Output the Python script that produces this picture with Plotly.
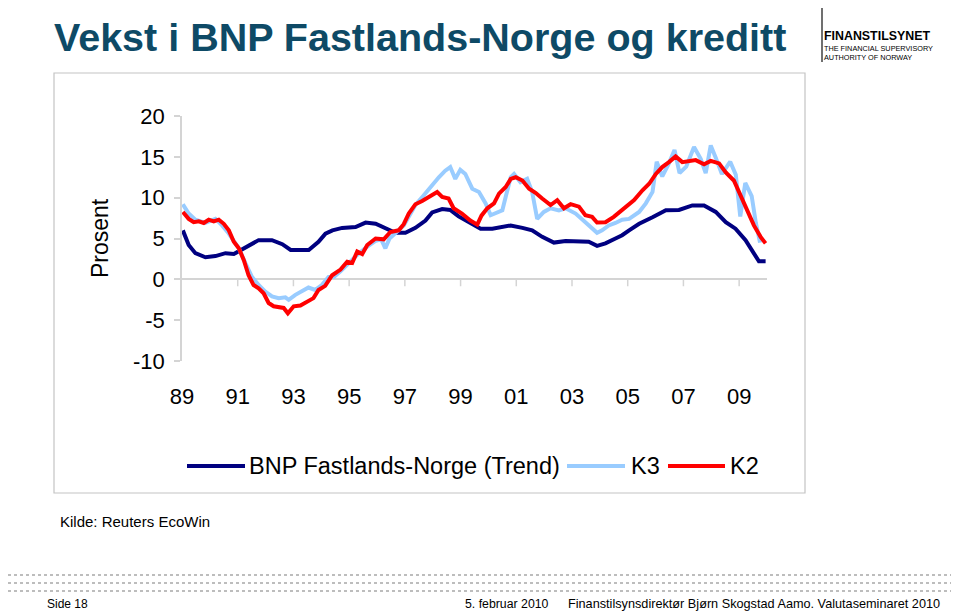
import plotly.graph_objects as go

# ---------------- data ----------------
bnp_t = [1989.03,1989.24,1989.48,1989.84,1990.2,1990.56,1990.86,1991.15,1991.46,1991.75,1992.23,1992.6,1992.9,1993.55,1993.9,
         1994.15,1994.4,1994.75,1995.23,1995.59,1995.95,1996.3,1996.66,1997.02,1997.38,1997.74,1997.98,1998.34,1998.63,1998.93,
         1999.41,1999.72,2000.14,2000.5,2000.8,2001.22,2001.57,2001.93,2002.35,2002.77,2003.25,2003.6,2003.9,2004.2,2004.56,
         2004.8,2005.05,2005.41,2005.89,2006.37,2006.84,2007.32,2007.74,2008.16,2008.52,2008.87,2009.23,2009.53,2009.71,2009.95]
bnp_v = [6.0,4.2,3.2,2.7,2.85,3.2,3.1,3.66,4.2,4.8,4.8,4.3,3.6,3.6,4.6,
         5.6,6.0,6.3,6.4,6.95,6.8,6.2,5.7,5.7,6.3,7.2,8.2,8.6,8.5,7.7,
         6.8,6.2,6.2,6.4,6.6,6.3,6.0,5.2,4.5,4.7,4.7,4.6,4.1,4.4,5.0,
         5.4,6.0,6.8,7.6,8.45,8.5,9.05,9.05,8.25,7.0,6.2,4.8,3.2,2.2,2.2]

k3_t = [1989.03,1989.24,1989.48,1989.84,1990.2,1990.44,1990.68,1990.86,1991.04,1991.28,1991.51,1991.75,1991.99,1992.23,
        1992.47,1992.71,1992.83,1993.07,1993.3,1993.54,1993.78,1994.02,1994.26,1994.45,1994.69,1994.93,1995.29,1995.65,
        1995.95,1996.15,1996.3,1996.45,1996.78,1996.96,1997.14,1997.38,1997.68,1997.92,1998.22,1998.45,1998.63,1998.81,
        1998.99,1999.17,1999.42,1999.66,1999.90,2000.08,2000.32,2000.50,2000.62,2000.80,2000.92,2001.15,2001.39,2001.57,
        2001.75,2001.99,2002.23,2002.53,2002.77,2003.13,2003.48,2003.72,2003.90,2004.08,2004.32,2004.56,2004.80,2005.05,
        2005.41,2005.65,2005.89,2006.04,2006.24,2006.48,2006.68,2006.86,2007.1,2007.38,2007.62,2007.8,2007.98,2008.16,
        2008.38,2008.68,2008.88,2009.04,2009.22,2009.45,2009.6,2009.75]
k3_v = [9.2,8.05,7.3,6.9,7.4,6.6,5.6,4.8,3.8,1.95,0.3,-0.7,-1.5,-2.1,
        -2.3,-2.2,-2.5,-1.9,-1.5,-1.0,-1.3,-0.7,0.3,0.3,1.0,1.8,3.0,4.0,
        4.7,4.9,3.8,5.0,6.0,6.6,7.65,9.1,10.3,11.3,12.5,13.3,13.75,12.3,
        13.4,12.9,11.1,10.7,9.3,7.85,8.25,8.45,10.1,12.5,12.9,11.9,12.3,10.7,
        7.4,8.25,8.7,8.45,8.7,8.05,7.0,6.2,5.7,6.0,6.6,6.9,7.3,7.4,
        8.25,9.3,10.7,14.4,12.6,14.2,15.85,13.0,13.8,16.2,14.75,13.0,16.4,14.9,
        12.9,14.4,12.8,7.7,11.8,10.2,6.9,4.5]

k2_t = [1989.03,1989.24,1989.42,1989.60,1989.78,1989.96,1990.14,1990.32,1990.50,1990.68,1990.86,1991.04,1991.22,1991.39,
        1991.57,1991.75,1991.93,1992.11,1992.29,1992.47,1992.65,1992.80,1993.01,1993.25,1993.48,1993.72,1993.90,1994.14,
        1994.39,1994.69,1994.93,1995.11,1995.29,1995.47,1995.65,1995.95,1996.24,1996.48,1996.78,1996.96,1997.14,1997.38,
        1997.62,1997.92,1998.16,1998.34,1998.57,1998.75,1999.05,1999.35,1999.6,1999.75,1999.96,2000.20,2000.38,2000.62,
        2000.80,2000.98,2001.22,2001.46,2001.69,2001.93,2002.23,2002.47,2002.71,2002.95,2003.25,2003.48,2003.72,2003.90,
        2004.20,2004.50,2004.80,2004.93,2005.23,2005.53,2005.77,2006.01,2006.24,2006.48,2006.72,2006.96,2007.20,2007.44,
        2007.74,2007.98,2008.28,2008.52,2008.81,2009.05,2009.29,2009.53,2009.77,2009.95]
k2_v = [8.25,7.4,7.0,7.1,6.9,7.3,7.1,7.3,6.8,6.0,4.6,3.8,2.35,0.5,
        -0.7,-1.1,-1.7,-2.9,-3.3,-3.4,-3.5,-4.15,-3.3,-3.2,-2.7,-2.3,-1.3,-0.8,
        0.5,1.2,2.15,2.0,3.4,3.1,4.2,5.0,4.9,5.8,6.0,6.75,8.05,9.2,
        9.6,10.2,10.7,10.1,9.9,8.7,8.05,7.2,6.7,7.8,8.7,9.3,10.5,11.3,
        12.3,12.5,12.1,11.1,10.6,9.9,9.1,9.7,8.7,9.2,8.9,7.85,7.65,6.95,
        7.0,7.65,8.45,8.95,9.7,10.9,11.7,12.9,13.75,14.35,15.05,14.35,14.5,14.6,
        14.1,14.5,14.2,13.1,12.1,10.3,8.45,6.6,5.2,4.4]

tick_years = [1989, 1991, 1993, 1995, 1997, 1999, 2001, 2003, 2005, 2007, 2009]
tick_text = ["89", "91", "93", "95", "97", "99", "01", "03", "05", "07", "09"]
y_ticks = [-10, -5, 0, 5, 10, 15, 20]
y_tick_text = ["-10", "-5", "0", "5", "10", "15", "20"]

series_names = ["BNP Fastlands-Norge (Trend)", "K3", "K2"]
series_colors = ["#000080", "#99CCFF", "#FF0000"]

# ---------------- figure ----------------
OFF = 8                                   # page body margin
W, H = 959, 613
L, R, T, B = 182 - OFF, 767 - OFF, 116 - OFF, 361 - OFF   # plot area (figure px)
pw, ph = R - L, B - T

def px(x):   # page x -> paper
    return (x - OFF - L) / pw

def py(y):   # page y -> paper
    return (B - (y - OFF)) / ph

FONT = "Liberation Sans, Arial, sans-serif"

fig = go.Figure()
for t, v, name, col in zip([bnp_t, k3_t, k2_t], [bnp_v, k3_v, k2_v], series_names, series_colors):
    fig.add_trace(go.Scatter(x=t, y=v, mode="lines", name=name,
                             line=dict(color=col, width=4), showlegend=False,
                             hoverinfo="x+y+name"))

fig.update_layout(
    width=W, height=H,
    margin=dict(l=L, r=W - R, t=T, b=H - B, pad=0),
    paper_bgcolor="white", plot_bgcolor="white",
    font=dict(family=FONT, color="black"),
    showlegend=False,
)
fig.update_xaxes(range=[1989.0, 2010.0], tickvals=tick_years, ticktext=tick_text,
                 showgrid=False, zeroline=False, showline=False, ticks="",
                 tickfont=dict(size=22, family=FONT), ticklabelstandoff=20)
fig.update_yaxes(range=[-10, 20], tickvals=y_ticks, ticktext=y_tick_text,
                 showgrid=False, zeroline=True, zerolinecolor="#D4D4D4", zerolinewidth=1.5,
                 showline=True, linecolor="#D4D4D4", linewidth=1.5,
                 ticks="outside", ticklen=6, tickcolor="#D4D4D4", tickwidth=1.5,
                 tickfont=dict(size=22, family=FONT), ticklabelstandoff=5)

shapes = []
# tick marks on the zero line
for yr in tick_years[1:]:
    shapes.append(dict(type="line", xref="x", yref="y", x0=yr, x1=yr, y0=0, y1=-0.85,
                       line=dict(color="#D4D4D4", width=1.5)))
# chart frame
shapes.append(dict(type="rect", xref="paper", yref="paper",
                   x0=px(54), x1=px(805), y0=py(493), y1=py(73),
                   line=dict(color="#C4C4C4", width=1.2)))
# custom legend
leg_y = py(466)
for (x0, x1), col in zip([(187, 245), (567, 625), (668, 725)], series_colors):
    shapes.append(dict(type="line", xref="paper", yref="paper", x0=px(x0), x1=px(x1),
                       y0=leg_y, y1=leg_y, line=dict(color=col, width=4)))
# logo divider
shapes.append(dict(type="line", xref="paper", yref="paper", x0=px(822), x1=px(822),
                   y0=py(8), y1=py(62), line=dict(color="#404040", width=1.5)))
# dotted footer rows
for yy in (575, 583, 591):
    shapes.append(dict(type="line", xref="paper", yref="paper", x0=px(8), x1=px(959),
                       y0=py(yy), y1=py(yy), line=dict(color="#BDBDBD", width=2, dash="dot")))
fig.update_layout(shapes=shapes)

ann = []
def add_text(text, x, y, size, xanchor="left", color="black", angle=0, bold=False):
    ann.append(dict(text=f"<b>{text}</b>" if bold else text, xref="paper", yref="paper",
                    x=px(x), y=py(y), xanchor=xanchor, yanchor="middle", showarrow=False,
                    textangle=angle, borderpad=0, align="left",
                    font=dict(size=size, color=color, family=FONT)))

add_text("Vekst i BNP Fastlands-Norge og kreditt", 53, 37, 39.5, color="#0E4A66", bold=True)
add_text("Prosent", 100, 238, 23, xanchor="center", angle=-90)
add_text(series_names[0], 248, 466, 23.5)
add_text(series_names[1], 630, 466, 23.5)
add_text(series_names[2], 729, 466, 23.5)
add_text("Kilde: Reuters EcoWin", 59, 521, 15)
add_text("FINANSTILSYNET", 823, 35.5, 12.4, bold=True)
add_text("THE FINANCIAL SUPERVISORY<br>AUTHORITY OF NORWAY", 823, 53, 7.3)
add_text("Side 18", 46, 604, 12)
add_text("5. februar 2010", 550, 604, 12.3, xanchor="right")
add_text("Finanstilsynsdirektør Bjørn Skogstad Aamo. Valutaseminaret 2010", 941, 604, 12.7, xanchor="right")
fig.update_layout(annotations=ann)

fig.write_html("out.html")
